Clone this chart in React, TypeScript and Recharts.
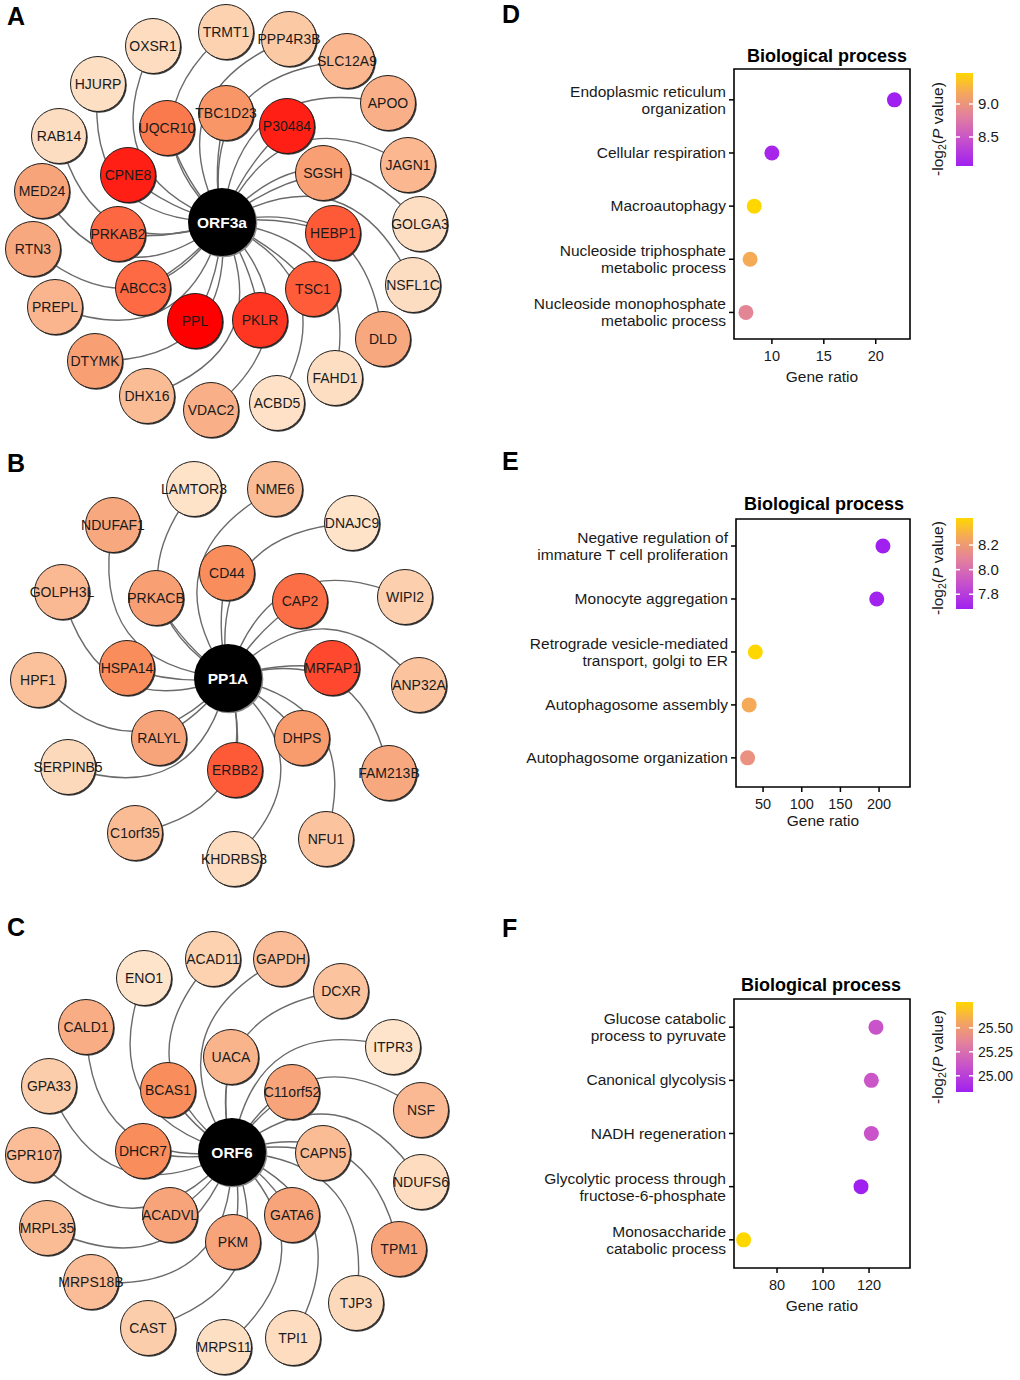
import React from "react";
import { ScatterChart, Scatter, XAxis, YAxis, ReferenceArea, Label } from "recharts";

const FONT = "'Liberation Sans', Arial, Helvetica, sans-serif";
const INK = "#1a1a1a";

// ---------- A / B / C : interaction networks (layout position + colour score) ----------
const orf3aHub = { gene: "ORF3a", x: 222, y: 222 };
const orf3aGenes = [
  { gene: "TBC1D23", x: 226, y: 113, score: 0.55 },
  { gene: "P30484", x: 287, y: 126, score: 0.93 },
  { gene: "UQCR10", x: 167, y: 128, score: 0.68 },
  { gene: "CPNE8", x: 128, y: 175, score: 0.93 },
  { gene: "SGSH", x: 323, y: 173, score: 0.5 },
  { gene: "PRKAB2", x: 118, y: 234, score: 0.75 },
  { gene: "HEBP1", x: 333, y: 233, score: 0.8 },
  { gene: "ABCC3", x: 143, y: 288, score: 0.74 },
  { gene: "TSC1", x: 313, y: 289, score: 0.79 },
  { gene: "PPL", x: 195, y: 321, score: 1.0 },
  { gene: "PKLR", x: 260, y: 320, score: 0.88 },
  { gene: "TRMT1", x: 226, y: 32, score: 0.18 },
  { gene: "PPP4R3B", x: 289, y: 39, score: 0.25 },
  { gene: "SLC12A9", x: 347, y: 61, score: 0.36 },
  { gene: "APOO", x: 388, y: 103, score: 0.4 },
  { gene: "JAGN1", x: 408, y: 165, score: 0.36 },
  { gene: "GOLGA3", x: 420, y: 224, score: 0.08 },
  { gene: "NSFL1C", x: 413, y: 285, score: 0.09 },
  { gene: "DLD", x: 383, y: 339, score: 0.45 },
  { gene: "FAHD1", x: 335, y: 378, score: 0.08 },
  { gene: "ACBD5", x: 277, y: 403, score: 0.06 },
  { gene: "VDAC2", x: 211, y: 410, score: 0.4 },
  { gene: "DHX16", x: 147, y: 396, score: 0.33 },
  { gene: "DTYMK", x: 95, y: 361, score: 0.5 },
  { gene: "PREPL", x: 55, y: 307, score: 0.37 },
  { gene: "RTN3", x: 33, y: 249, score: 0.45 },
  { gene: "MED24", x: 42, y: 191, score: 0.47 },
  { gene: "RAB14", x: 59, y: 136, score: 0.09 },
  { gene: "HJURP", x: 98, y: 84, score: 0.07 },
  { gene: "OXSR1", x: 153, y: 46, score: 0.1 },
];

const pp1aHub = { gene: "PP1A", x: 228, y: 678 };
const pp1aGenes = [
  { gene: "LAMTOR3", x: 194, y: 489, score: 0.04 },
  { gene: "NME6", x: 275, y: 489, score: 0.33 },
  { gene: "NDUFAF1", x: 113, y: 525, score: 0.45 },
  { gene: "DNAJC9", x: 352, y: 523, score: 0.04 },
  { gene: "CD44", x: 227, y: 573, score: 0.6 },
  { gene: "GOLPH3L", x: 62, y: 592, score: 0.35 },
  { gene: "PRKACB", x: 156, y: 598, score: 0.5 },
  { gene: "CAP2", x: 300, y: 601, score: 0.72 },
  { gene: "WIPI2", x: 405, y: 597, score: 0.2 },
  { gene: "HSPA14", x: 127, y: 668, score: 0.6 },
  { gene: "MRFAP1", x: 332, y: 668, score: 0.84 },
  { gene: "HPF1", x: 38, y: 680, score: 0.3 },
  { gene: "ANP32A", x: 419, y: 685, score: 0.28 },
  { gene: "RALYL", x: 159, y: 738, score: 0.47 },
  { gene: "DHPS", x: 302, y: 738, score: 0.52 },
  { gene: "SERPINB5", x: 68, y: 767, score: 0.12 },
  { gene: "ERBB2", x: 235, y: 770, score: 0.8 },
  { gene: "FAM213B", x: 389, y: 773, score: 0.45 },
  { gene: "C1orf35", x: 135, y: 833, score: 0.33 },
  { gene: "NFU1", x: 326, y: 839, score: 0.28 },
  { gene: "KHDRBS3", x: 234, y: 859, score: 0.1 },
];

const orf6Hub = { gene: "ORF6", x: 232, y: 1152 };
const orf6Genes = [
  { gene: "ACAD11", x: 213, y: 959, score: 0.18 },
  { gene: "GAPDH", x: 281, y: 959, score: 0.32 },
  { gene: "ENO1", x: 144, y: 978, score: 0.03 },
  { gene: "DCXR", x: 341, y: 991, score: 0.28 },
  { gene: "CALD1", x: 86, y: 1027, score: 0.42 },
  { gene: "ITPR3", x: 393, y: 1047, score: 0.03 },
  { gene: "UACA", x: 231, y: 1057, score: 0.38 },
  { gene: "GPA33", x: 49, y: 1086, score: 0.22 },
  { gene: "BCAS1", x: 168, y: 1090, score: 0.6 },
  { gene: "C11orf52", x: 292, y: 1092, score: 0.47 },
  { gene: "NSF", x: 421, y: 1110, score: 0.35 },
  { gene: "GPR107", x: 33, y: 1155, score: 0.32 },
  { gene: "DHCR7", x: 143, y: 1151, score: 0.6 },
  { gene: "CAPN5", x: 323, y: 1153, score: 0.33 },
  { gene: "NDUFS6", x: 421, y: 1182, score: 0.1 },
  { gene: "ACADVL", x: 170, y: 1215, score: 0.47 },
  { gene: "GATA6", x: 292, y: 1215, score: 0.47 },
  { gene: "MRPL35", x: 47, y: 1228, score: 0.33 },
  { gene: "PKM", x: 233, y: 1242, score: 0.47 },
  { gene: "TPM1", x: 399, y: 1249, score: 0.47 },
  { gene: "MRPS18B", x: 91, y: 1282, score: 0.32 },
  { gene: "TJP3", x: 356, y: 1303, score: 0.12 },
  { gene: "CAST", x: 148, y: 1328, score: 0.22 },
  { gene: "TPI1", x: 293, y: 1338, score: 0.1 },
  { gene: "MRPS11", x: 224, y: 1347, score: 0.07 },
];

// ---------- D / E / F : GO enrichment ----------
const termsD = [
  ["Endoplasmic reticulum", "organization"],
  ["Cellular respiration"],
  ["Macroautophagy"],
  ["Nucleoside triphosphate", "metabolic process"],
  ["Nucleoside monophosphate", "metabolic process"],
];
const ratioD = [21.8, 10, 8.3, 7.9, 7.5];
const logPD = [8.06, 8.12, 9.47, 9.19, 8.86];
const xTicksD = [10, 15, 20];
const barTicksD = [8.5, 9.0];

const termsE = [
  ["Negative regulation of", "immature T cell proliferation"],
  ["Monocyte aggregation"],
  ["Retrograde vesicle-mediated", "transport, golgi to ER"],
  ["Autophagosome assembly"],
  ["Autophagosome organization"],
];
const ratioE = [205, 197, 40, 32, 30];
const logPE = [7.68, 7.69, 8.42, 8.27, 8.16];
const xTicksE = [50, 100, 150, 200];
const barTicksE = [7.8, 8.0, 8.2];

const termsF = [
  ["Glucose catabolic", "process to pyruvate"],
  ["Canonical glycolysis"],
  ["NADH regeneration"],
  ["Glycolytic process through", "fructose-6-phosphate"],
  ["Monosaccharide", "catabolic process"],
];
const ratioF = [123, 121, 121, 116.5, 65.5];
const logPF = [25.11, 25.12, 25.11, 24.83, 25.77];
const xTicksF = [80, 100, 120];
const barTicksF = [25.0, 25.25, 25.5];

// ---------- colour ramps ----------
const NODE_STOPS: [number, string][] = [
  [0, "#fee8d0"],
  [0.25, "#fcc9a5"],
  [0.45, "#f8a87e"],
  [0.62, "#f98a58"],
  [0.8, "#ff5a38"],
  [1, "#ff0000"],
];
const P_STOPS: [number, string][] = [
  [0, "#a020f0"],
  [0.3, "#c954c9"],
  [0.55, "#e3829b"],
  [0.78, "#f4a65e"],
  [1, "#ffd700"],
];

const rgb = (h: string) => [1, 3, 5].map((i) => parseInt(h.slice(i, i + 2), 16));
const ramp = (stops: [number, string][], t: number) => {
  const u = Math.max(0, Math.min(1, t));
  for (let i = 1; i < stops.length; i++) {
    if (u <= stops[i][0]) {
      const f = (u - stops[i - 1][0]) / (stops[i][0] - stops[i - 1][0]);
      const a = rgb(stops[i - 1][1]);
      const b = rgb(stops[i][1]);
      const c = a.map((v, k) => Math.round(v + (b[k] - v) * f));
      return `rgb(${c[0]},${c[1]},${c[2]})`;
    }
  }
  return stops[stops.length - 1][1];
};

// ---------- networks ----------
const NET_W = 470;
const NET_H = 1380;
const NET_X: [number, number] = [0, 470];
const NET_Y: [number, number] = [0, 1380];
const NODE_R = 27.5;
const HUB_R = 34;

const networks = [
  { hub: orf3aHub, genes: orf3aGenes },
  { hub: pp1aHub, genes: pp1aGenes },
  { hub: orf6Hub, genes: orf6Genes },
];

// curved edge from the hub to each gene; hub pixel found through the axis scale
const edgeShape = (hub: any) => (props: any) => {
  const { cx, cy, payload } = props;
  const kx = NET_W / (NET_X[1] - NET_X[0]);
  const ky = NET_H / (NET_Y[1] - NET_Y[0]);
  const hx = cx + (hub.x - payload.x) * kx;
  const hy = cy + (hub.y - payload.y) * ky;
  const dx = cx - hx;
  const dy = cy - hy;
  const bend = Math.hypot(dx, dy) > 145 ? 0.55 : 0.12;
  const qx = (hx + cx) / 2 + bend * dy;
  const qy = (hy + cy) / 2 - bend * dx;
  return (
    <path
      d={`M${hx},${hy}Q${qx},${qy} ${cx},${cy}`}
      fill="none"
      stroke="#6a6a6a"
      strokeWidth={1.4}
    />
  );
};

const geneShape = (props: any) => {
  const { cx, cy, payload } = props;
  return (
    <g>
      <circle cx={cx + 1.3} cy={cy + 1.3} r={NODE_R} fill="#3a3a3a" />
      <circle cx={cx} cy={cy} r={NODE_R} fill={ramp(NODE_STOPS, payload.score)} stroke="#1e1e1e" strokeWidth={1} />
      <text x={cx} y={cy + 4.8} textAnchor="middle" fontSize={14} fill={INK}>
        {payload.gene}
      </text>
    </g>
  );
};

const hubShape = (props: any) => {
  const { cx, cy, payload } = props;
  return (
    <g>
      <circle cx={cx + 1.3} cy={cy + 1.3} r={HUB_R} fill="#888" />
      <circle cx={cx} cy={cy} r={HUB_R} fill="#000" />
      <text x={cx} y={cy + 5.5} textAnchor="middle" fontSize={15.5} fontWeight="bold" fill="#fff">
        {payload.gene}
      </text>
    </g>
  );
};

const Networks = () => (
  <div style={{ position: "absolute", left: 0, top: 0 }}>
    <ScatterChart width={NET_W} height={NET_H} margin={{ top: 0, right: 0, bottom: 0, left: 0 }}>
      <XAxis type="number" dataKey="x" domain={NET_X} hide />
      <YAxis type="number" dataKey="y" domain={NET_Y} reversed hide />
      {networks.map((n) => (
        <Scatter key={n.hub.gene + "-edges"} data={n.genes} shape={edgeShape(n.hub)} isAnimationActive={false} />
      ))}
      {networks.map((n) => (
        <Scatter key={n.hub.gene + "-genes"} data={n.genes} shape={geneShape} isAnimationActive={false} />
      ))}
      {networks.map((n) => (
        <Scatter key={n.hub.gene + "-hub"} data={[n.hub]} shape={hubShape} isAnimationActive={false} />
      ))}
    </ScatterChart>
  </div>
);

// ---------- dot plots ----------
const TermTick = (props: any) => {
  const { x, y, payload, terms } = props;
  const lines: string[] = terms[payload.value - 1] || [];
  const y0 = lines.length === 1 ? 5 : -3;
  return (
    <text x={x} y={y + y0} textAnchor="end" fontSize={15.5} fill={INK}>
      {lines.map((l, i) => (
        <tspan key={i} x={x} dy={i === 0 ? 0 : 17}>
          {l}
        </tspan>
      ))}
    </text>
  );
};

const panels = [
  {
    id: "D", top: 30, yw: 234, mt: 39, xh: 51, labelOff: 8,
    terms: termsD, ratio: ratioD, logP: logPD, xTicks: xTicksD,
    xDomain: [6.35, 23.3], yDomain: [0.42, 5.5],
  },
  {
    id: "E", top: 480, yw: 236, mt: 39, xh: 53, labelOff: 14,
    terms: termsE, ratio: ratioE, logP: logPE, xTicks: xTicksE,
    xDomain: [15, 240], yDomain: [0.49, 5.55],
  },
  {
    id: "F", top: 960, yw: 234, mt: 39, xh: 52, labelOff: 9,
    terms: termsF, ratio: ratioF, logP: logPF, xTicks: xTicksF,
    xDomain: [61.3, 137.8], yDomain: [0.47, 5.53],
  },
];

const DotPlot = ({ spec }: { spec: any }) => {
  const lo = Math.min(...spec.logP);
  const hi = Math.max(...spec.logP);
  const rows = spec.terms.map((_: any, i: number) => ({
    row: i + 1,
    ratio: spec.ratio[i],
    logP: spec.logP[i],
  }));
  return (
    <div style={{ position: "absolute", left: 500, top: spec.top }}>
      <ScatterChart width={420} height={360} margin={{ top: spec.mt, right: 10, bottom: 0, left: 0 }}>
        <XAxis
          type="number"
          dataKey="ratio"
          domain={spec.xDomain}
          ticks={spec.xTicks}
          interval={0}
          height={spec.xh}
          stroke="#000"
          axisLine={false}
          tickLine={{ stroke: "#000", strokeWidth: 1.5 }}
          tickSize={5}
          tickMargin={7}
          tick={{ fontSize: 14.5, fill: INK }}
        >
          <Label value="Gene ratio" position="insideBottom" offset={spec.labelOff} fontSize={15.5} fill={INK} />
        </XAxis>
        <YAxis
          type="number"
          dataKey="row"
          domain={spec.yDomain}
          ticks={[1, 2, 3, 4, 5]}
          interval={0}
          reversed
          width={spec.yw}
          stroke="#000"
          axisLine={false}
          tickLine={{ stroke: "#000", strokeWidth: 1.5 }}
          tickSize={5}
          tickMargin={3}
          tick={(p: any) => <TermTick {...p} terms={spec.terms} />}
        />
        <ReferenceArea
          x1={spec.xDomain[0]}
          x2={spec.xDomain[1]}
          y1={spec.yDomain[0]}
          y2={spec.yDomain[1]}
          fill="none"
          stroke="#000"
          strokeWidth={1.6}
          ifOverflow="visible"
        />
        <Scatter
          data={rows}
          isAnimationActive={false}
          shape={(p: any) => (
            <circle cx={p.cx} cy={p.cy} r={7.5} fill={ramp(P_STOPS, (p.payload.logP - lo) / (hi - lo))} />
          )}
        />
      </ScatterChart>
    </div>
  );
};

// ---------- colour bars, titles, panel letters ----------
const bars = [
  { logP: logPD, ticks: barTicksD, digits: 1, y: 73, h: 93, titleY: 129, fs: 15 },
  { logP: logPE, ticks: barTicksE, digits: 1, y: 518, h: 91, titleY: 568, fs: 15 },
  { logP: logPF, ticks: barTicksF, digits: 2, y: 1002, h: 90, titleY: 1057, fs: 14 },
];
const BAR_X = 956;
const BAR_W = 17;

const letters = [
  { t: "A", x: 7, y: 25 },
  { t: "B", x: 7, y: 472 },
  { t: "C", x: 7, y: 936 },
  { t: "D", x: 502, y: 23 },
  { t: "E", x: 502, y: 470 },
  { t: "F", x: 502, y: 937 },
];
const titles = [
  { x: 827, y: 62 },
  { x: 824, y: 510 },
  { x: 821, y: 991 },
];

const Overlay = () => (
  <svg width={1020} height={1380} style={{ position: "absolute", left: 0, top: 0, pointerEvents: "none" }}>
    <defs>
      <linearGradient id="pgrad" x1="0" y1="1" x2="0" y2="0">
        {P_STOPS.map(([o, c]) => (
          <stop key={o} offset={o} stopColor={c} />
        ))}
      </linearGradient>
    </defs>
    {letters.map((l) => (
      <text key={l.t} x={l.x} y={l.y} fontSize={25} fontWeight="bold" fill="#000">
        {l.t}
      </text>
    ))}
    {titles.map((t, i) => (
      <text key={i} x={t.x} y={t.y} textAnchor="middle" fontSize={18} fontWeight="bold" fill="#000">
        Biological process
      </text>
    ))}
    {bars.map((b, i) => {
      const lo = Math.min(...b.logP);
      const hi = Math.max(...b.logP);
      const ty = (v: number) => b.y + b.h - ((v - lo) / (hi - lo)) * b.h;
      return (
        <g key={i}>
          <rect x={BAR_X} y={b.y} width={BAR_W} height={b.h} fill="url(#pgrad)" />
          {b.ticks.map((v) => (
            <g key={v}>
              <line x1={BAR_X} x2={BAR_X + 4} y1={ty(v)} y2={ty(v)} stroke="#fff" strokeWidth={1.5} />
              <line x1={BAR_X + BAR_W - 4} x2={BAR_X + BAR_W} y1={ty(v)} y2={ty(v)} stroke="#fff" strokeWidth={1.5} />
              <text x={978} y={ty(v) + 5} fontSize={b.fs} fill={INK}>
                {v.toFixed(b.digits)}
              </text>
            </g>
          ))}
          <text transform={`translate(943, ${b.titleY}) rotate(-90)`} textAnchor="middle" fontSize={15.5} fill={INK}>
            -log<tspan fontSize={10.5} dy={3}>2</tspan>
            <tspan dy={-3}>(</tspan>
            <tspan fontStyle="italic">P</tspan> value)
          </text>
        </g>
      );
    })}
  </svg>
);

export default function App() {
  return (
    <div
      style={{
        position: "absolute",
        left: 0,
        top: 0,
        width: 1020,
        height: 1380,
        background: "#fff",
        fontFamily: FONT,
        overflow: "hidden",
      }}
    >
      <Networks />
      {panels.map((p) => (
        <DotPlot key={p.id} spec={p} />
      ))}
      <Overlay />
    </div>
  );
}
